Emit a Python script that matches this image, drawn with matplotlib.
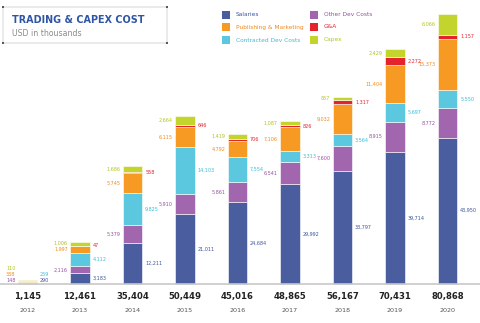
import matplotlib
matplotlib.use('Agg')
import matplotlib.pyplot as plt
from matplotlib.patches import Rectangle

years = ['2012', '2013', '2014', '2015', '2016', '2017', '2018', '2019', '2020']
salaries = [290, 3183, 12211, 21011, 24684, 29992, 33797, 39714, 43950]
other_dev = [148, 2116, 5379, 5910, 5861, 6541, 7600, 8915, 8772]
contracted = [259, 4112, 9825, 14103, 7554, 3313, 3564, 5697, 5550]
publishing = [338, 1997, 5745, 6115, 4792, 7106, 9032, 11404, 15373]
g_and_a = [0, 47, 558, 646, 706, 826, 1317, 2272, 1157]
capex = [110, 1006, 1686, 2664, 1419, 1087, 857, 2429, 6066]
totals = ['1,145', '12,461', '35,404', '50,449', '45,016', '48,865', '56,167', '70,431', '80,868']

# stacking order bottom -> top, label side
series = [
    ('Salaries', salaries, '#4a5d9f', '#3d559e', 'right'),
    ('Other Dev Costs', other_dev, '#a166ad', '#9850a6', 'left'),
    ('Contracted Dev Costs', contracted, '#5cc8e0', '#3dbcd8', 'right'),
    ('Publishing & Marketing', publishing, '#f69a23', '#f08a1c', 'left'),
    ('G&A', g_and_a, '#e4232d', '#e02530', 'right'),
    ('Capex', capex, '#c3d42d', '#b2c41e', 'left'),
]

fig = plt.figure(figsize=(4.8, 3.23), dpi=100)
ax = fig.add_axes([0, 0, 1, 1])
ax.set_xlim(-0.524, 8.619)
ax.set_ylim(-11700, 85200)
ax.axis('off')

x = list(range(len(years)))
width = 0.38
bottoms = [0] * len(years)
last_y = {'left': [None] * len(years), 'right': [None] * len(years)}
min_gap = 1800

for name, vals, col, tcol, side in series:
    ax.bar(x, vals, width, bottom=bottoms, color=col, edgecolor='white', linewidth=0.4)
    for i, v in enumerate(vals):
        if v > 0:
            yc = bottoms[i] + v / 2
            prev = last_y[side][i]
            yl = max(yc, 1100 if prev is None else prev + min_gap)
            last_y[side][i] = yl
            if side == 'right':
                ax.text(x[i] + width / 2 + 0.05, yl, f'{v:,}', color=tcol, fontsize=3.5,
                        ha='left', va='center')
            else:
                ax.text(x[i] - width / 2 - 0.04, yl, f'{v:,}', color=tcol, fontsize=3.5,
                        ha='right', va='center')
    bottoms = [b + v for b, v in zip(bottoms, vals)]

# baseline
ax.axhline(0, color='#c8c8c8', lw=1.2)

# totals and years
for i in x:
    ax.text(i, -3900, totals[i], ha='center', va='center', fontsize=6.1, fontweight='bold', color='#222222')
    ax.text(i, -8100, years[i], ha='center', va='center', fontsize=4.6, color='#555555')

# title box
fig.add_artist(Rectangle((3 / 480, 1 - 43 / 323), 164 / 480, 36 / 323, transform=fig.transFigure,
                         fill=False, edgecolor='#e6e6e6', lw=1.2))
for cx, cy in [(3, 7), (167, 7), (3, 43), (167, 43)]:
    fig.add_artist(Rectangle(((cx - 1) / 480, 1 - (cy + 1) / 323), 2 / 480, 2 / 323,
                             transform=fig.transFigure, color='#555566', lw=0))
fig.text(12 / 480, 1 - 20 / 323, 'TRADING & CAPEX COST', fontsize=6.9, fontweight='bold',
         color='#2f55a4', ha='left', va='center')
fig.text(12 / 480, 1 - 33 / 323, 'USD in thousands', fontsize=5.6, color='#8a8a8a',
         ha='left', va='center')

# legend
legend_order = [('Salaries', '#4a5d9f', '#3d559e'),
                ('Publishing & Marketing', '#f69a23', '#f08a1c'),
                ('Contracted Dev Costs', '#5cc8e0', '#3dbcd8'),
                ('Other Dev Costs', '#a166ad', '#9850a6'),
                ('G&A', '#e4232d', '#e02530'),
                ('Capex', '#c3d42d', '#b2c41e')]
rows_y = [14.5, 27, 40]
for k, (name, col, tcol) in enumerate(legend_order):
    sx = 222 if k < 3 else 310
    sy = rows_y[k % 3]
    fig.add_artist(Rectangle((sx / 480, 1 - (sy + 4) / 323), 8 / 480, 8 / 323,
                             transform=fig.transFigure, color=col, lw=0))
    fig.text((sx + 14) / 480, 1 - sy / 323, name, fontsize=4.2, color=tcol,
             ha='left', va='center')

fig.savefig('out.png', dpi=100)
